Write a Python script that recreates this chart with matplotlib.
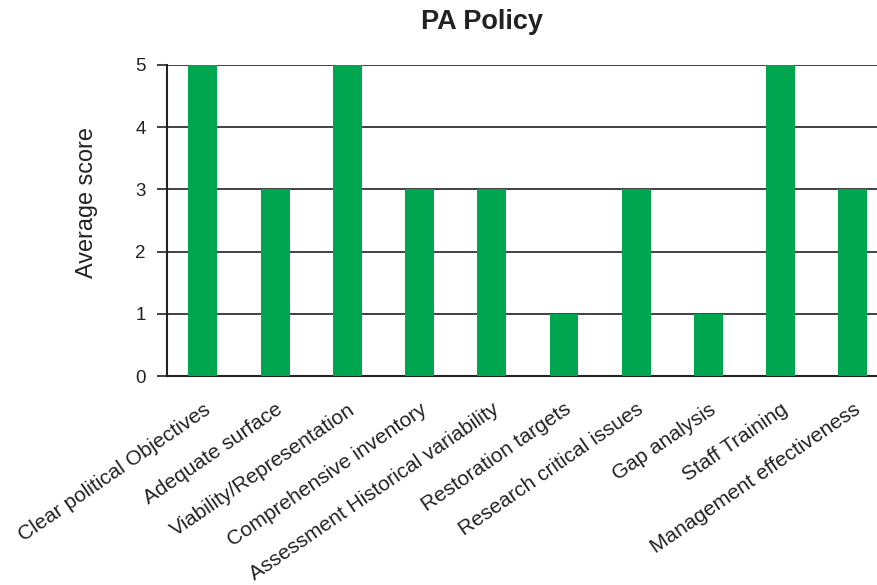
import matplotlib.pyplot as plt

categories = ['Clear political Objectives', 'Adequate surface', 'Viability/Representation',
              'Comprehensive inventory', 'Assessment Historical variability', 'Restoration targets',
              'Research critical issues', 'Gap analysis', 'Staff Training', 'Management effectiveness']
scores = [5, 3, 5, 3, 3, 1, 3, 1, 5, 3]
yticks = [0, 1, 2, 3, 4, 5]

plt.rcParams['font.family'] = ['Liberation Sans', 'DejaVu Sans']

fig = plt.figure(figsize=(8.78, 5.85), dpi=100)
ax = fig.add_axes([0.190, 0.357, 0.8225, 0.532])

x = list(range(len(categories)))
ax.bar(x, scores, width=0.40, color='#00a54f', zorder=3)

ax.set_xlim(-0.5, 9.5)
ax.set_ylim(0, 5)
ax.set_yticks(yticks)
ax.yaxis.grid(True, color='#333333', linewidth=1.3, zorder=1)

ax.set_xticks(x)
ax.set_xticklabels(categories, rotation=34.5, ha='right', va='top', rotation_mode='anchor',
                   fontsize=15, color='#222222')
ax.tick_params(axis='x', length=0, pad=17)
ax.tick_params(axis='y', length=7, width=1.2, labelsize=13.5, colors='#222222', pad=8)

for s in ['top', 'right']:
    ax.spines[s].set_visible(False)
ax.spines['left'].set_linewidth(1.5)
ax.spines['bottom'].set_linewidth(1.5)
ax.spines['left'].set_color('#222222')
ax.spines['bottom'].set_color('#222222')

fig.text(0.098, 0.653, 'Average score', rotation=90, ha='center', va='center',
         fontsize=16.8, color='#222222')
fig.text(0.549, 0.962, 'PA Policy', ha='center', va='center', fontsize=19.5,
         fontweight='bold', color='#222222')

fig.savefig('out.png', dpi=100)
